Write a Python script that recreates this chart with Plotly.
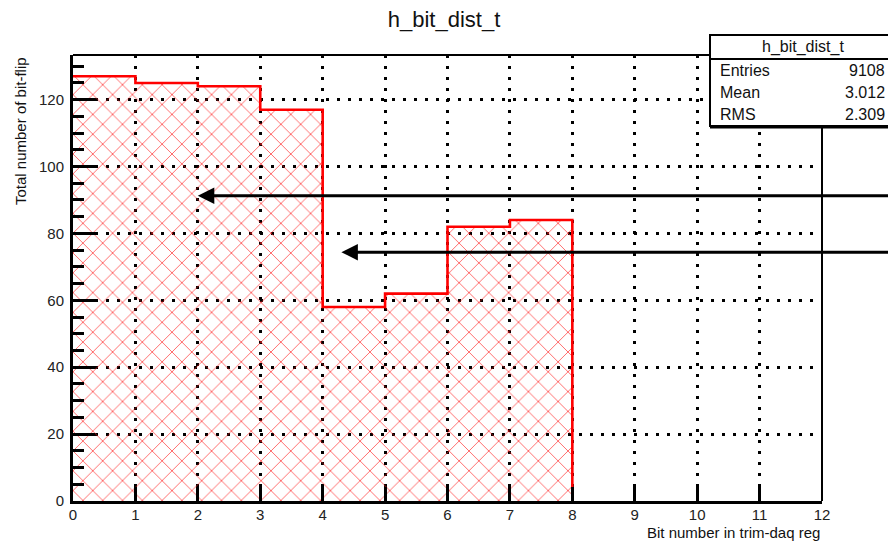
import plotly.graph_objects as go

# ---- data ----
bin_edges = [0, 1, 2, 3, 4, 5, 6, 7, 8]
bin_counts = [127, 125, 124, 117, 58, 62, 82, 84]
x_ticks = list(range(0, 13))
y_ticks = [0, 20, 40, 60, 80, 100, 120]
arrow_x = [2.0, 4.3]
arrow_y = [91.3, 74.4]
arrow_tail_x = 13.3
stats_title = "h_bit_dist_t"
stats_labels = ["Entries", "Mean", "RMS"]
stats_values = ["9108", "3.012", "2.309"]
title = "h_bit_dist_t"
x_title = "Bit number in trim-daq reg"
y_title = "Total number of bit-flip"
y_max = 1.05 * max(bin_counts)

W, H = 888, 541
L, R, T, B = 73, 822, 55, 501
FONT = "Liberation Sans, Arial, Helvetica, sans-serif"


def px(x):
    return (x - L) / (R - L)


def py(y):
    return (B - y) / (B - T)


centers = [(a + b) / 2 for a, b in zip(bin_edges[:-1], bin_edges[1:])]
widths = [b - a for a, b in zip(bin_edges[:-1], bin_edges[1:])]

fig = go.Figure()
fig.add_trace(go.Bar(
    x=centers, y=bin_counts, width=widths,
    marker=dict(
        color="rgba(0,0,0,0)",
        line=dict(width=0),
        pattern=dict(shape="x", fgcolor="rgba(255,30,30,0.9)",
                     bgcolor="rgba(0,0,0,0)", size=14, solidity=0.1,
                     fillmode="replace"),
    ),
    hoverinfo="skip", showlegend=False,
))

step_x = bin_edges[:-1] + [bin_edges[-1], bin_edges[-1]]
step_y = bin_counts + [bin_counts[-1], 0]
fig.add_trace(go.Scatter(
    x=step_x, y=step_y, mode="lines",
    line=dict(color="#ff0000", width=2.6, shape="hv"),
    hoverinfo="skip", showlegend=False, cliponaxis=False,
))

annotations = []
for xa, ya in zip(arrow_x, arrow_y):
    annotations.append(dict(
        x=xa, y=ya, xref="x", yref="y", ax=arrow_tail_x, ay=ya,
        axref="x", ayref="y", text="", showarrow=True,
        arrowhead=2, arrowwidth=3, arrowsize=1.1, arrowcolor="black",
    ))

# axis titles
annotations.append(dict(
    x=px(R), y=py(532), xref="paper", yref="paper", text=x_title,
    showarrow=False, xanchor="right", yanchor="middle",
    font=dict(family=FONT, size=15, color="#111"),
))
annotations.append(dict(
    x=px(20), y=py(T), xref="paper", yref="paper", text=y_title,
    showarrow=False, xanchor="center", yanchor="top", textangle=-90,
    font=dict(family=FONT, size=15, color="#111"),
))

# stats box text
annotations.append(dict(
    x=px(803), y=py(47), xref="paper", yref="paper", text=stats_title,
    showarrow=False, xanchor="center", yanchor="middle",
    font=dict(family=FONT, size=16, color="#111"),
))
row_y = [70, 92, 114]
for lab, val, ry in zip(stats_labels, stats_values, row_y):
    annotations.append(dict(
        x=px(718), y=py(ry), xref="paper", yref="paper", text=lab,
        showarrow=False, xanchor="left", yanchor="middle",
        font=dict(family=FONT, size=16, color="#111"),
    ))
    annotations.append(dict(
        x=px(887), y=py(ry), xref="paper", yref="paper", text=val,
        showarrow=False, xanchor="right", yanchor="middle",
        font=dict(family=FONT, size=16, color="#111"),
    ))

shapes = [
    # top and right frame lines
    dict(type="line", xref="paper", yref="paper", x0=0, x1=1, y0=1, y1=1,
         line=dict(color="black", width=2)),
    dict(type="line", xref="paper", yref="paper", x0=1, x1=1, y0=0, y1=1,
         line=dict(color="black", width=2)),
    # stats box
    dict(type="rect", xref="paper", yref="paper", x0=px(710), x1=px(900),
         y0=py(126), y1=py(35), fillcolor="white",
         line=dict(color="black", width=2), layer="above"),
    dict(type="line", xref="paper", yref="paper", x0=px(710), x1=px(900),
         y0=py(59), y1=py(59), line=dict(color="black", width=2), layer="above"),
    dict(type="line", xref="paper", yref="paper", x0=px(710), x1=px(900),
         y0=py(127), y1=py(127), line=dict(color="black", width=3), layer="above"),
]

fig.update_layout(
    width=W, height=H,
    margin=dict(l=L, r=W - R, t=T, b=H - B),
    paper_bgcolor="white", plot_bgcolor="white",
    title=dict(text=title, x=0.5, xanchor="center", y=1 - 19 / H,
               yanchor="middle", font=dict(family=FONT, size=22, color="#111")),
    showlegend=False,
    bargap=0,
    annotations=annotations,
    shapes=shapes,
)
fig.update_xaxes(
    range=[0, 12], tickvals=x_ticks, ticktext=[str(v) for v in x_ticks],
    ticks="inside", ticklen=14, tickwidth=2.5, tickcolor="black",
    showline=True, linecolor="black", linewidth=3, mirror=False,
    showgrid=True, gridcolor="black", gridwidth=2.5, griddash="3px,8px",
    zeroline=False, ticklabelstandoff=-2,
    tickfont=dict(family=FONT, size=15, color="#222"),
)
fig.update_yaxes(
    range=[0, y_max], tickvals=y_ticks, ticktext=[str(v) for v in y_ticks],
    ticks="inside", ticklen=22, tickwidth=2.5, tickcolor="black",
    minor=dict(dtick=5, tick0=0, ticks="inside", ticklen=11, tickwidth=2.5,
               tickcolor="black", showgrid=False),
    showline=True, linecolor="black", linewidth=3, mirror=False,
    showgrid=True, gridcolor="black", gridwidth=2.5, griddash="3px,8px",
    zeroline=False, ticklabelstandoff=3,
    tickfont=dict(family=FONT, size=15, color="#222"),
)

fig.write_html(
    "out.html",
    config={"displayModeBar": False},
    post_script="document.body.style.margin='0px';document.body.style.overflow='hidden';",
)
